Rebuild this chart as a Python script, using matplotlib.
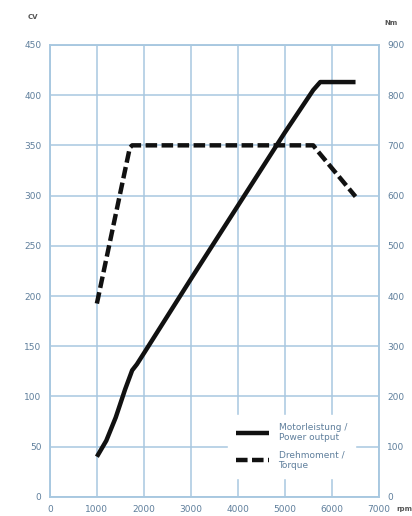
import matplotlib.pyplot as plt

# Drehzahl (rpm) und Werte
power_rpm = [1000, 1200, 1400, 1600, 1750, 1850, 2000, 3000, 4000, 5000, 5600, 5750, 6500]
power_cv = [40, 56, 79, 107, 126, 132, 143, 217, 290, 363, 405, 413, 413]

torque_rpm = [1000, 1350, 1700, 1750, 5600, 5700, 6500]
torque_nm = [385, 540, 695, 700, 700, 688, 598]

x_ticks = [0, 1000, 2000, 3000, 4000, 5000, 6000, 7000]
cv_ticks = [0, 50, 100, 150, 200, 250, 300, 350, 400, 450]
nm_ticks = [0, 100, 200, 300, 400, 500, 600, 700, 800, 900]

grid_col = '#a8c8e0'
text_col = '#5f7f9c'

fig = plt.figure(figsize=(4.12, 5.16), dpi=100)
ax = fig.add_axes([0.121, 0.037, 0.799, 0.876])
ax2 = ax.twinx()

ax.set_xlim(0, 7000)
ax.set_ylim(0, 450)
ax2.set_ylim(0, 900)
ax.set_xticks(x_ticks)
ax.set_yticks(cv_ticks)
ax2.set_yticks(nm_ticks)
ax.grid(True, color=grid_col, linewidth=1.1)
ax.set_axisbelow(True)
for a in (ax, ax2):
    for s in a.spines.values():
        s.set_color(grid_col)
        s.set_linewidth(1.1)
    a.tick_params(length=0, labelsize=6.5, labelcolor=text_col, pad=6)
ax.tick_params(axis='x', pad=6)

ax.plot(power_rpm, power_cv, color='#111111', lw=3.2, solid_capstyle='butt',
        solid_joinstyle='round', label='Motorleistung /\nPower output')
ax2.plot(torque_rpm, torque_nm, color='#111111', lw=3.2, dashes=(2.6, 1.0),
         label='Drehmoment /\nTorque')

# Legende
h1, l1 = ax.get_legend_handles_labels()
h2, l2 = ax2.get_legend_handles_labels()
leg = ax2.legend(h1 + h2, l1 + l2, loc='lower right', bbox_to_anchor=(0.927, 0.042),
                 frameon=True, fontsize=6.5, labelcolor=text_col, handlelength=3.6,
                 labelspacing=0.9, borderpad=0.9, handletextpad=1.1,
                 borderaxespad=0)
leg.get_frame().set_edgecolor('white')
leg.get_frame().set_facecolor('white')
leg.get_frame().set_alpha(1)

fig.text(0.068, 0.968, 'CV', fontsize=5, color='#555555', ha='left', va='center',
         fontweight='bold')
fig.text(0.932, 0.956, 'Nm', fontsize=5, color='#555555', ha='left', va='center',
         fontweight='bold')
fig.text(0.962, 0.013, 'rpm', fontsize=5, color='#555555', ha='left', va='center',
         fontweight='bold')

fig.savefig('out.png', dpi=100)
